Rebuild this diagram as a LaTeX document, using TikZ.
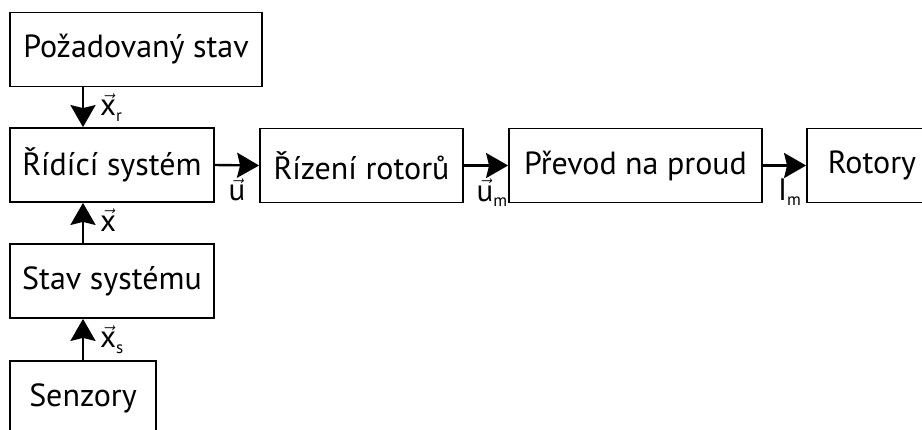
\documentclass[tikz,border=0pt]{standalone}
\usepackage{fontspec}
\setmainfont{PT Sans}
\usetikzlibrary{arrows.meta, positioning}

\newcommand{\sig}[2]{$\vec{\mbox{#1}}$\raisebox{-0.35ex}{\fontsize{17}{18}\selectfont #2}}

\begin{document}
\begin{tikzpicture}[
  x=1pt, y=-1pt,
  box/.style={
    draw, line width=1.8pt, minimum height=74pt, inner sep=0pt,
    align=center, font=\fontsize{32}{36}\selectfont
  },
  arr/.style={-{Stealth[length=22pt, width=25pt, inset=3pt]}, line width=2.4pt},
  lbl/.style={font=\fontsize{31}{34}\selectfont, inner sep=0pt}
]
\clip (0,0) rectangle (922,429);

% Blocks
\node[box, minimum width=252pt] (pozad) at (136, 49.5) {Požadovaný stav};
\node[box, minimum width=204pt] (ridic) at (112, 165) {Řídící systém};
\node[box, minimum width=203pt] (rizeni) at (361.5, 165.5) {Řízení rotorů};
\node[box, minimum width=253pt] (prevod) at (635.5, 165.5) {Převod na proud};
\node[box, minimum width=130pt] (rotory) at (872, 165.5) {Rotory};
\node[box, minimum width=204pt] (stav) at (112, 281) {Stav systému};
\node[box, minimum width=146pt] (senzory) at (83, 398) {Senzory};

% Vertical signals
\draw[arr] (pozad.south -| senzory.north) -- node[lbl, right, xshift=16pt] {\sig{x}{r}} (ridic.north -| senzory.north);
\draw[arr] (stav.north -| senzory.north) -- node[lbl, right, xshift=16pt] {\sig{x}{}} (ridic.south -| senzory.north);
\draw[arr] (senzory.north) -- node[lbl, right, xshift=16pt] {\sig{x}{s}} (stav.south -| senzory.north);

% Horizontal signals
\draw[arr] (ridic.east) -- node[lbl, below, yshift=-12pt] {\sig{u}{}} (rizeni.west);
\draw[arr] (rizeni.east) -- node[lbl, below, yshift=-12pt, xshift=6pt] {\sig{u}{m}} (prevod.west);
\draw[arr] (prevod.east) -- node[lbl, below, yshift=-12pt, xshift=5pt] {I\raisebox{-0.35ex}{\fontsize{17}{18}\selectfont m}} (rotory.west);

\end{tikzpicture}
\end{document}
